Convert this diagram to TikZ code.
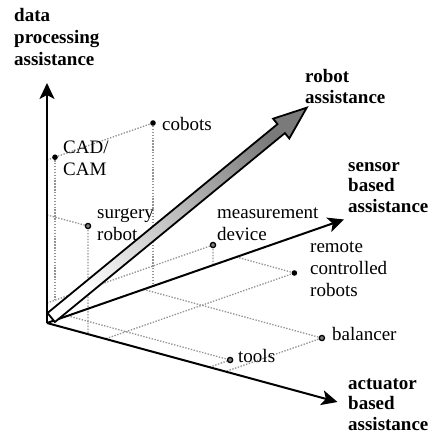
\documentclass[tikz,border=0pt]{standalone}
\usepackage{fontspec}
\setmainfont{Liberation Serif}
\usetikzlibrary{arrows.meta}
\begin{document}
\begin{tikzpicture}[x=1pt,y=-1pt,
  axisline/.style={line width=2pt,-{Stealth[length=16pt,width=15pt,inset=4pt]}},
  proj/.style={draw=black!42,line width=1.3pt,dash pattern=on 1.4pt off 1.5pt},
  solidpt/.style={circle,fill=black,inner sep=0pt,minimum size=5.6pt},
  ringpt/.style={circle,draw=black,line width=1.3pt,fill=black!50,inner sep=0pt,minimum size=5.2pt},
  % multi-line labels are placed by the baseline of their last line
  axislabel/.style={font=\fontsize{19}{20.5}\selectfont\bfseries,align=left,anchor=base west,inner sep=0pt},
  itemlabel/.style={font=\fontsize{19}{22}\selectfont,align=left,anchor=base west,inner sep=0pt},
]
\useasboundingbox (0,0) rectangle (431,436);

% origin and axis tips
\coordinate (O) at (47,323);
\coordinate (Ztip) at (47,83);
\coordinate (Atip) at (337.5,402);
\coordinate (Stip) at (344,219.5);

% points of the assistance space and their projections
\coordinate (zCad) at (47,160);
\coordinate (cad)  at (55,157.2);
\coordinate (cadF) at (55,300.2);
\coordinate (cob)  at (153,123);
\coordinate (cobF) at (153,286.4);
\coordinate (zSur) at (47,215);
\coordinate (sur)  at (88,226);
\coordinate (surF) at (88,334);
\coordinate (z20)  at (47,303);
\coordinate (meas) at (213,245);
\coordinate (measF) at (213,265);
\coordinate (sRem) at (236.4,257);
\coordinate (aRem) at (105,339);
\coordinate (rem)  at (294.4,273);
\coordinate (sBal) at (143.5,289.4);
\coordinate (aBal) at (225.4,371.6);
\coordinate (bal)  at (321.9,338);
\coordinate (sToo) at (67.7,315.8);
\coordinate (aToo) at (209.4,367.2);
\coordinate (too)  at (230.1,360);

% dotted projection lines
\draw[proj] (zCad) -- (cad) -- (cob);
\draw[proj] (cob) -- (cobF);
\draw[proj] (cad) -- (cadF);
\draw[proj] (zSur) -- (sur) -- (surF);
\draw[proj] (z20) -- (meas) -- (measF);
\draw[proj] (sRem) -- (rem) -- (aRem);
\draw[proj] (sBal) -- (bal) -- (aBal);
\draw[proj] (sToo) -- (too) -- (aToo);

% axes
\draw[axisline] (O) -- (Ztip);
\draw[axisline] (O) -- (Atip);
\draw[axisline] (O) -- (Stip);

% robot assistance arrow
\coordinate (B1) at (47.5,313.0);
\coordinate (B2) at (54.9,322.0);
\coordinate (S1) at (277.5,124.1);
\coordinate (S2) at (284.9,133.1);
\coordinate (C1) at (273.1,118.7);
\coordinate (C2) at (289.3,138.5);
\coordinate (T)  at (306.7,107.7);
\path[draw=black,line width=1.8pt,line join=miter,
      top color=white,bottom color=black!52,shading angle=129.7]
  (B1) -- (S1) -- (C1) -- (T) -- (C2) -- (S2) -- (B2) -- cycle;

% marked points
\node[solidpt] (cadD) at (cad) {};
\node[solidpt] (cobD) at (cob) {};
\node[ringpt]  (surD) at (sur) {};
\node[ringpt]  (measD) at (meas) {};
\node[solidpt] (remD) at (rem) {};
\node[ringpt]  (balD) at (bal) {};
\node[ringpt]  (tooD) at (too) {};

% axis labels
\node[axislabel,font=\fontsize{19}{22}\selectfont\bfseries] (lData) at (14,65.7) {data\\processing\\assistance};
\node[axislabel] (lRobot) at (305,103) {robot\\assistance};
\node[axislabel] (lSensor) at (348,212) {sensor\\based\\assistance};
\node[axislabel] (lAct) at (348,430) {actuator\\based\\assistance};

% point labels
\node[itemlabel] (tCob) at (162,130) {cobots};
\node[itemlabel] (tCad) at (63,175) {CAD/\\CAM};
\node[itemlabel] (tSur) at (97,240) {surgery\\robot};
\node[itemlabel] (tMeas) at (217,240) {measurement\\device};
\node[itemlabel] (tRem) at (310,296) {remote\\controlled\\robots};
\node[itemlabel] (tBal) at (332,340) {balancer};
\node[itemlabel] (tToo) at (238,362) {tools};
\end{tikzpicture}
\end{document}
